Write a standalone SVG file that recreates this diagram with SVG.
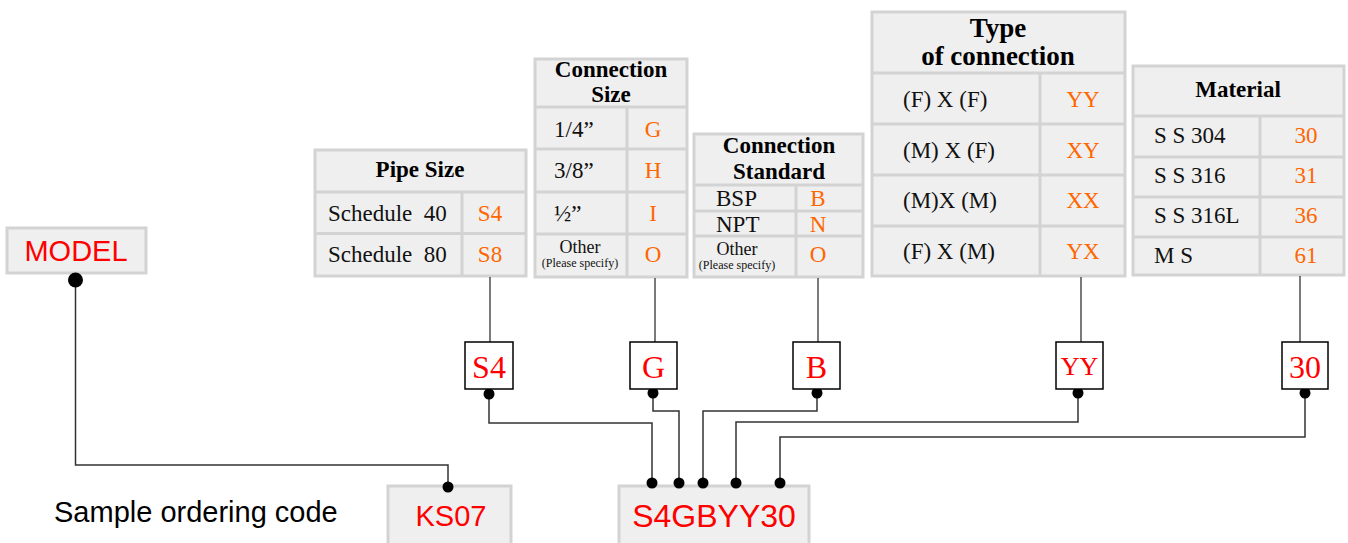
<svg xmlns="http://www.w3.org/2000/svg" width="1348" height="543" viewBox="0 0 1348 543">
<style>
.cell{fill:#efefef;stroke:#d3d3d3;stroke-width:3}
.div{stroke:#d3d3d3;stroke-width:3}
.hd{font-family:"Liberation Serif","Times New Roman",serif;font-weight:bold;font-size:23px;fill:#000;text-anchor:middle}
.hd2{font-family:"Liberation Serif","Times New Roman",serif;font-weight:bold;font-size:27px;fill:#000;text-anchor:middle}
.tx{font-family:"Liberation Serif","Times New Roman",serif;font-size:23px;fill:#111;white-space:pre}
.oth{font-family:"Liberation Serif","Times New Roman",serif;font-size:18px;fill:#111;text-anchor:middle}
.ps{font-family:"Liberation Serif","Times New Roman",serif;font-size:12px;fill:#111;text-anchor:middle}
.cd{font-family:"Liberation Serif","Times New Roman",serif;font-size:23px;fill:#ff6600;text-anchor:middle}
.sb{fill:#fff;stroke:#000;stroke-width:1.5}
.sbt{font-family:"Liberation Serif","Times New Roman",serif;font-size:32px;fill:#ff0000;text-anchor:middle}
.sbt2{font-family:"Liberation Serif","Times New Roman",serif;font-size:26px;fill:#ff0000;text-anchor:middle}
.big{font-family:"Liberation Sans",Arial,sans-serif;fill:#ff0000;text-anchor:middle}
.wire{fill:none;stroke:#333;stroke-width:1.5}
.v{stroke:#333;stroke-width:1.3}
</style>

<g id="label-sample">
<text x="54" y="522" font-family="Liberation Sans, Arial, sans-serif" font-size="29" fill="#000">Sample ordering code</text>
</g>

<g id="model">
<rect class="cell" x="7" y="228" width="139" height="45"/>
<text class="big" x="76" y="261" font-size="29">MODEL</text>
</g>

<g id="ks07">
<rect class="cell" x="388" y="486" width="123" height="60"/>
<text class="big" x="451" y="526" font-size="29">KS07</text>
</g>

<g id="code">
<rect class="cell" x="619" y="486" width="190" height="60"/>
<text class="big" x="714" y="527" font-size="32">S4GBYY30</text>
</g>

<g id="pipe-size">
<rect class="cell" x="315" y="150" width="211" height="126"/>
<line class="div" x1="315" y1="192" x2="526" y2="192"/>
<line class="div" x1="315" y1="233.5" x2="526" y2="233.5"/>
<line class="div" x1="462" y1="192" x2="462" y2="276"/>
<text class="hd" x="420" y="177">Pipe Size</text>
<text class="tx" x="328" y="221" xml:space="preserve">Schedule  40</text>
<text class="tx" x="328" y="262" xml:space="preserve">Schedule  80</text>
<text class="cd" x="490" y="221">S4</text>
<text class="cd" x="490" y="262">S8</text>
</g>

<g id="connection-size">
<rect class="cell" x="535" y="59" width="152" height="218"/>
<line class="div" x1="535" y1="107" x2="687" y2="107"/>
<line class="div" x1="535" y1="149" x2="687" y2="149"/>
<line class="div" x1="535" y1="192" x2="687" y2="192"/>
<line class="div" x1="535" y1="234" x2="687" y2="234"/>
<line class="div" x1="627" y1="107" x2="627" y2="277"/>
<text class="hd" x="611" y="77">Connection</text>
<text class="hd" x="611" y="102">Size</text>
<text class="tx" x="554" y="137">1/4”</text>
<text class="tx" x="554" y="178">3/8”</text>
<text class="tx" x="554" y="221">½”</text>
<text class="oth" x="580" y="253">Other</text>
<text class="ps" x="580" y="267">(Please specify)</text>
<text class="cd" x="653" y="137">G</text>
<text class="cd" x="653" y="178">H</text>
<text class="cd" x="653" y="221">I</text>
<text class="cd" x="653" y="262">O</text>
</g>

<g id="connection-standard">
<rect class="cell" x="694" y="134" width="169" height="143"/>
<line class="div" x1="694" y1="185" x2="863" y2="185"/>
<line class="div" x1="694" y1="211" x2="863" y2="211"/>
<line class="div" x1="694" y1="236" x2="863" y2="236"/>
<line class="div" x1="796" y1="185" x2="796" y2="277"/>
<text class="hd" x="779" y="153">Connection</text>
<text class="hd" x="779" y="179">Standard</text>
<text class="tx" x="716" y="206">BSP</text>
<text class="tx" x="716" y="232">NPT</text>
<text class="oth" x="737" y="255">Other</text>
<text class="ps" x="737" y="269">(Please specify)</text>
<text class="cd" x="818" y="206">B</text>
<text class="cd" x="818" y="232">N</text>
<text class="cd" x="818" y="262">O</text>
</g>

<g id="type-of-connection">
<rect class="cell" x="872" y="12" width="253" height="264"/>
<line class="div" x1="872" y1="73" x2="1125" y2="73"/>
<line class="div" x1="872" y1="124" x2="1125" y2="124"/>
<line class="div" x1="872" y1="175" x2="1125" y2="175"/>
<line class="div" x1="872" y1="226" x2="1125" y2="226"/>
<line class="div" x1="1040" y1="73" x2="1040" y2="276"/>
<text class="hd2" x="998" y="37">Type</text>
<text class="hd2" x="998" y="65">of connection</text>
<text class="tx" x="903" y="107">(F) X (F)</text>
<text class="tx" x="903" y="158">(M) X (F)</text>
<text class="tx" x="903" y="208">(M)X (M)</text>
<text class="tx" x="903" y="259">(F) X (M)</text>
<text class="cd" x="1083" y="107">YY</text>
<text class="cd" x="1083" y="158">XY</text>
<text class="cd" x="1083" y="208">XX</text>
<text class="cd" x="1083" y="259">YX</text>
</g>

<g id="material">
<rect class="cell" x="1133" y="66" width="211" height="209"/>
<line class="div" x1="1133" y1="116" x2="1344" y2="116"/>
<line class="div" x1="1133" y1="157" x2="1344" y2="157"/>
<line class="div" x1="1133" y1="197" x2="1344" y2="197"/>
<line class="div" x1="1133" y1="237" x2="1344" y2="237"/>
<line class="div" x1="1260" y1="116" x2="1260" y2="275"/>
<text class="hd" x="1238" y="97">Material</text>
<text class="tx" x="1154" y="143">S S 304</text>
<text class="tx" x="1154" y="183">S S 316</text>
<text class="tx" x="1154" y="223">S S 316L</text>
<text class="tx" x="1154" y="263">M S</text>
<text class="cd" x="1306" y="143">30</text>
<text class="cd" x="1306" y="183">31</text>
<text class="cd" x="1306" y="223">36</text>
<text class="cd" x="1306" y="263">61</text>
</g>

<g id="connectors">
<line class="v" x1="490" y1="277" x2="490" y2="342"/>
<line class="v" x1="655" y1="278" x2="655" y2="342"/>
<line class="v" x1="818" y1="278" x2="818" y2="342"/>
<line class="v" x1="1081" y1="277" x2="1081" y2="342"/>
<line class="v" x1="1300" y1="276" x2="1300" y2="342"/>
<path class="wire" d="M75.5 280 V465 H448 V487" stroke="#000"/>
<path class="wire" d="M489 394 V423 H652 V483"/>
<path class="wire" d="M653 393 V411 H679 V483"/>
<path class="wire" d="M817 393 V411 H703 V483"/>
<path class="wire" d="M1078 393 V422 H736 V483"/>
<path class="wire" d="M1305 393 V437 H780 V483"/>
<circle cx="75.5" cy="280" r="7.5"/>
<circle cx="448" cy="487" r="5.5"/>
<circle cx="489" cy="394" r="5.5"/>
<circle cx="653" cy="393" r="5.5"/>
<circle cx="817" cy="393" r="5.5"/>
<circle cx="1078" cy="393" r="5.5"/>
<circle cx="1305" cy="393" r="5.5"/>
<circle cx="652" cy="483" r="5.5"/>
<circle cx="679" cy="483" r="5.5"/>
<circle cx="703" cy="483" r="5.5"/>
<circle cx="736" cy="483" r="5.5"/>
<circle cx="780" cy="483" r="5.5"/>
</g>

<g id="box-s4">
<rect class="sb" x="465" y="342" width="48" height="47"/>
<text class="sbt" x="489" y="378">S4</text>
</g>
<g id="box-g">
<rect class="sb" x="630" y="342" width="47" height="47"/>
<text class="sbt" x="653.5" y="378">G</text>
</g>
<g id="box-b">
<rect class="sb" x="793" y="342" width="47" height="47"/>
<text class="sbt" x="816.5" y="378">B</text>
</g>
<g id="box-yy">
<rect class="sb" x="1056" y="342" width="47" height="47"/>
<text class="sbt2" x="1079.5" y="375">YY</text>
</g>
<g id="box-30">
<rect class="sb" x="1282" y="342" width="46" height="47"/>
<text class="sbt" x="1305" y="378">30</text>
</g>
</svg>
